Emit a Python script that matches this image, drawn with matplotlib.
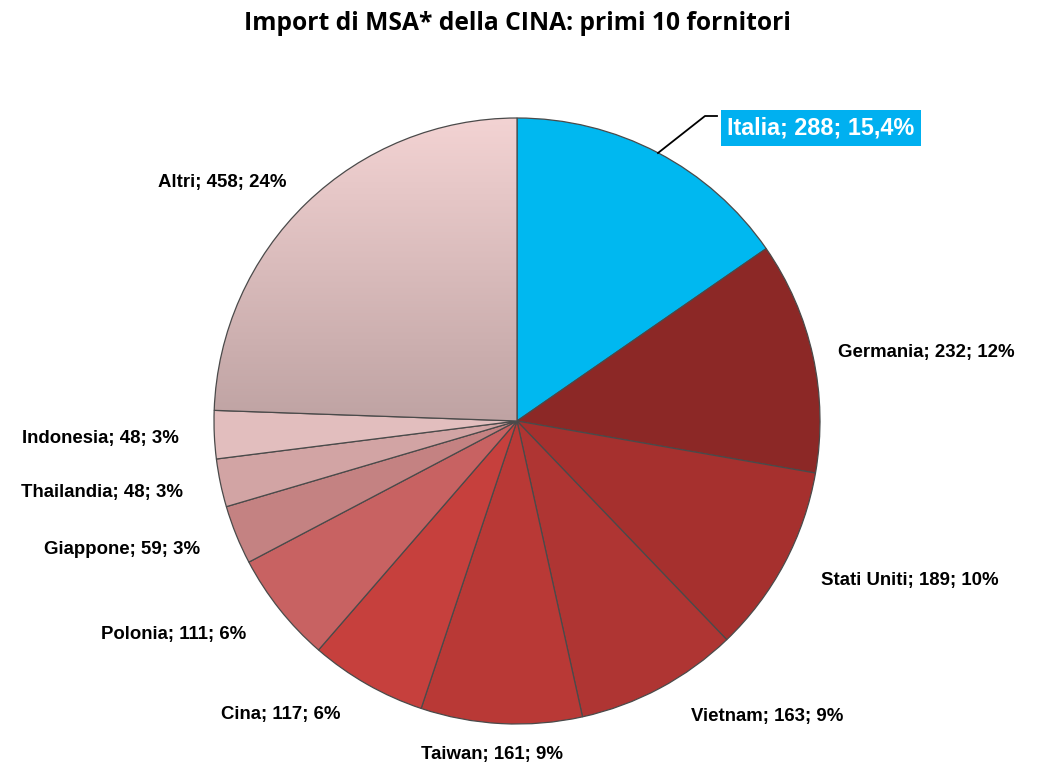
import matplotlib
matplotlib.use("Agg")
import matplotlib.pyplot as plt
import numpy as np
from matplotlib.colors import LinearSegmentedColormap

title = "Import di MSA* della CINA: primi 10 fornitori"
countries = ["Italia", "Germania", "Stati Uniti", "Vietnam", "Taiwan", "Cina",
             "Polonia", "Giappone", "Thailandia", "Indonesia", "Altri"]
values = [288, 232, 189, 163, 161, 117, 111, 59, 48, 48, 458]
pct_labels = ["15,4%", "12%", "10%", "9%", "9%", "6%", "6%", "3%", "3%", "3%", "24%"]
colors = ["#00B8F0", "#8C2826", "#A6302E", "#AF3533", "#B93936", "#C6403D",
          "#C86262", "#C48282", "#D2A4A4", "#E2BEBE", "#DCB8B8"]

W, H = 1045, 767
fig = plt.figure(figsize=(W / 100, H / 100), dpi=100)
ax = fig.add_axes([0, 0, 1, 1])

cx, cy, r = 517, H - 421, 303
wedges, _ = ax.pie(values, colors=colors, startangle=90, counterclock=False,
                   center=(cx, cy), radius=r, frame=True,
                   wedgeprops=dict(edgecolor="#4a4a4a", linewidth=0.9))
ax.set_xlim(0, W)
ax.set_ylim(0, H)
ax.set_aspect("equal")
ax.axis("off")

# vertical gradient on the "Altri" wedge
grad = np.linspace(0, 1, 256).reshape(-1, 1)
cmap = LinearSegmentedColormap.from_list("altri", ["#BFA3A3", "#F3D3D3"])
im = ax.imshow(grad, cmap=cmap, origin="lower", aspect="auto",
               extent=(cx - r, cx, cy, cy + r), zorder=wedges[-1].get_zorder())
im.set_clip_path(wedges[-1])
wedges[-1].set_facecolor("none")
wedges[-1].set_zorder(im.get_zorder() + 0.1)
ax.set_xlim(0, W)
ax.set_ylim(0, H)

fig.text(517 / W, 1 - 24 / H, title, ha="center", va="center",
         fontsize=17.7, fontweight="bold", family="Open Sans")

label_pos = {
    "Germania": (926, 352), "Stati Uniti": (910, 580), "Vietnam": (767, 716),
    "Taiwan": (492, 754), "Cina": (281, 714), "Polonia": (174, 634),
    "Giappone": (122, 550), "Thailandia": (102, 493), "Indonesia": (100, 438),
    "Altri": (222, 183),
}
for c, v, p in zip(countries, values, pct_labels):
    txt = f"{c}; {v}; {p}"
    if c == "Italia":
        ax.text(821, H - 128, txt, ha="center", va="center", fontsize=16.8,
                fontweight="bold", color="white", family="Liberation Sans",
                bbox=dict(boxstyle="square,pad=0.27", facecolor="#00B0F0",
                          edgecolor="none"))
    else:
        x, y = label_pos[c]
        ax.text(x, H - y, txt, ha="center", va="center", fontsize=13.4,
                fontweight="bold", color="black", family="Liberation Sans")

ax.plot([658, 705, 717], [H - 153, H - 116, H - 116], color="black", lw=1.3)

fig.savefig("out.png", dpi=100)
